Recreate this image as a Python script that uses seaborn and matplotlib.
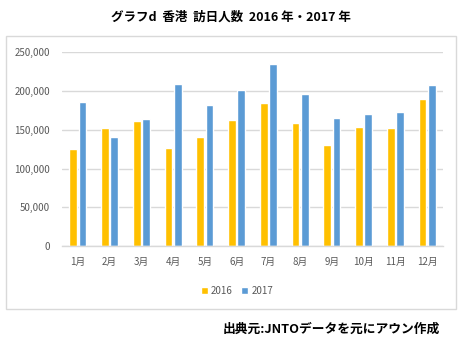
import matplotlib
matplotlib.use("Agg")
import matplotlib.pyplot as plt
import matplotlib.patches as mpatches
from matplotlib.ticker import FuncFormatter
import seaborn as sns
import pandas as pd

months = ["1月", "2月", "3月", "4月", "5月", "6月", "7月", "8月", "9月", "10月", "11月", "12月"]
visitors_2016 = [125200, 151900, 160900, 126500, 140300, 163000, 184200, 159200, 130400, 153600, 151900, 189300]
visitors_2017 = [185900, 140700, 163900, 209100, 181600, 201800, 234500, 196200, 165200, 170800, 172500, 207400]
series = ["2016", "2017"]
colors = ["#FFC000", "#5B9BD5"]
yticks = [0, 50000, 100000, 150000, 200000, 250000]

df = pd.DataFrame({
    "month": months * 2,
    "year": [series[0]] * len(months) + [series[1]] * len(months),
    "visitors": visitors_2016 + visitors_2017,
})

sns.set_theme(style="white")
plt.rcParams["font.family"] = ["Noto Sans CJK JP", "DejaVu Sans"]

W, H = 474, 350
fig = plt.figure(figsize=(W / 100, H / 100), dpi=100)
fig.patch.set_facecolor("white")

# outer chart frame
frame = mpatches.Rectangle((6 / W, 1 - 309 / H), (456 - 6) / W, (309 - 36) / H,
                           transform=fig.transFigure, fill=False,
                           edgecolor="#D9D9D9", linewidth=1.0)
fig.patches.append(frame)

ax = fig.add_axes([62 / W, 1 - 246 / H, (443 - 62) / W, (246 - 52.3) / H])
sns.barplot(data=df, x="month", y="visitors", hue="year", order=months,
            hue_order=series, palette=colors, width=0.58, gap=0.15,
            saturation=1, ax=ax, legend=True)

ax.set_ylim(0, 250000)
ax.set_yticks(yticks)
ax.yaxis.set_major_formatter(FuncFormatter(lambda v, p: f"{int(v):,}"))
ax.set_xlim(-0.5, len(months) - 0.5)
ax.set_xlabel("")
ax.set_ylabel("")
for s in ["top", "right", "left"]:
    ax.spines[s].set_visible(False)
ax.spines["bottom"].set_color("#D9D9D9")
ax.spines["bottom"].set_linewidth(1.0)
ax.grid(axis="y", color="#D9D9D9", linewidth=1.0)
ax.set_axisbelow(True)
ax.tick_params(axis="both", length=0, labelsize=7, labelcolor="#595959")
ax.tick_params(axis="y", pad=8.5)
ax.tick_params(axis="x", pad=8)

handles, labels = ax.get_legend_handles_labels()
ax.legend(handles, labels, loc="center", bbox_to_anchor=(237 / W, 1 - 291 / H),
          bbox_transform=fig.transFigure, ncol=2, frameon=False,
          handlelength=0.7, handleheight=0.7, handletextpad=0.3,
          columnspacing=0.9, fontsize=7, labelcolor="#595959")

fig.text(231 / W, 1 - 17 / H, "グラフd  香港  訪日人数  2016 年・2017 年",
         ha="center", va="center", fontsize=9, fontweight="bold", color="black")
fig.text(440 / W, 1 - 329 / H, "出典元:JNTOデータを元にアウン作成",
         ha="right", va="center", fontsize=9.2, fontweight="bold", color="black")

fig.savefig("out.png", dpi=100, facecolor="white")
